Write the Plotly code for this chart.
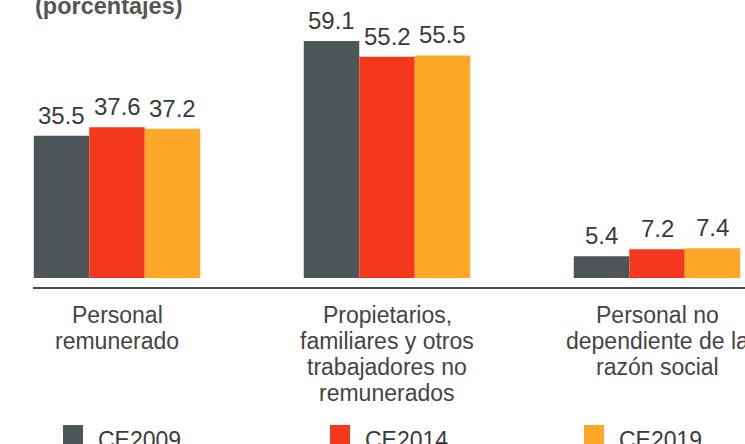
import plotly.graph_objects as go

# ---- data ----
categories = [
    ["Personal", "remunerado"],
    ["Propietarios,", "familiares y otros", "trabajadores no", "remunerados"],
    ["Personal no", "dependiente de la", "razón social"],
]
series_names = ["CE2009", "CE2014", "CE2019"]
ce2009 = [35.5, 59.1, 5.4]
ce2014 = [37.6, 55.2, 7.2]
ce2019 = [37.2, 55.5, 7.4]
series_values = [ce2009, ce2014, ce2019]
colors = ["#4f5659", "#f4381e", "#fea829"]
subtitle = "(porcentajes)"

W, H = 745, 444
ML, MR, MT, MB = 33, 0, 20, 157
PW, PH = W - ML - MR, H - MT - MB
FONT = "Liberation Sans, Arial, sans-serif"

x_pos = list(range(len(categories)))
group_width = 166.5 / 270
bar_w = group_width / len(series_names)

fig = go.Figure()
annotations = []
for j, (name, vals, col) in enumerate(zip(series_names, series_values, colors)):
    fig.add_trace(go.Bar(
        x=x_pos, y=vals, name=name, marker=dict(color=col, line=dict(width=0)),
        showlegend=False, hoverinfo="skip",
    ))
    off = (j - (len(series_names) - 1) / 2) * bar_w
    for i, v in enumerate(vals):
        annotations.append(dict(
            x=i + off, xref="x", y=v, yref="y", xanchor="center", yanchor="bottom",
            yshift=5, text=f"{v:.1f}", showarrow=False,
            font=dict(size=24, color="#3a3a3a", family=FONT),
        ))

# category labels (one annotation per line for tight line spacing)
for i, lines in enumerate(categories):
    for k, line in enumerate(lines):
        annotations.append(dict(
            x=i, xref="x", y=0, yref="paper", yanchor="middle", xanchor="center",
            yshift=-(28 + 26 * k), text=line, showarrow=False,
            font=dict(size=23, color="#444444", family=FONT),
        ))

# subtitle
annotations.append(dict(
    x=0, xref="paper", y=1, yref="paper", xanchor="left", yanchor="middle",
    yshift=14, text="<b>" + subtitle + "</b>", showarrow=False,
    font=dict(size=23.5, color="#555555", family=FONT),
))

# manual legend
shapes = []
leg_sq_x = [63, 330, 584]
for name, col, sx in zip(series_names, colors, leg_sq_x):
    x0 = (sx - ML) / PW
    x1 = (sx + 20 - ML) / PW
    y0 = (MT + PH - 445) / PH
    y1 = (MT + PH - 425) / PH
    shapes.append(dict(type="rect", xref="paper", yref="paper",
                       x0=x0, x1=x1, y0=y0, y1=y1,
                       fillcolor=col, line=dict(width=0)))
    annotations.append(dict(
        x=(sx + 33 - ML) / PW, xref="paper", y=(MT + PH - 440) / PH, yref="paper",
        xanchor="left", yanchor="middle", text=name, showarrow=False,
        font=dict(size=23, color="#3a3a3a", family=FONT),
    ))

px_per_unit = 270.0
x_min = -(117 - ML) / px_per_unit
x_max = x_min + PW / px_per_unit
py_per_unit = 237 / 59.1
y_min = -9 / py_per_unit
y_max = y_min + PH / py_per_unit

fig.update_layout(
    width=W, height=H,
    margin=dict(l=ML, r=MR, t=MT, b=MB, pad=0),
    paper_bgcolor="white", plot_bgcolor="white",
    barmode="group", bargap=1 - group_width, bargroupgap=0,
    xaxis=dict(range=[x_min, x_max], showticklabels=False, ticks="",
               showgrid=False, zeroline=False, showline=True,
               linecolor="#4a4a4a", linewidth=2, fixedrange=True),
    yaxis=dict(range=[y_min, y_max], visible=False, showgrid=False,
               zeroline=False, fixedrange=True),
    annotations=annotations, shapes=shapes,
    showlegend=False, hovermode=False,
    font=dict(family=FONT),
)

fig.write_html("out.html",
               config={"displayModeBar": False, "staticPlot": True},
               post_script="document.body.style.margin='0';document.body.style.overflow='hidden';")
